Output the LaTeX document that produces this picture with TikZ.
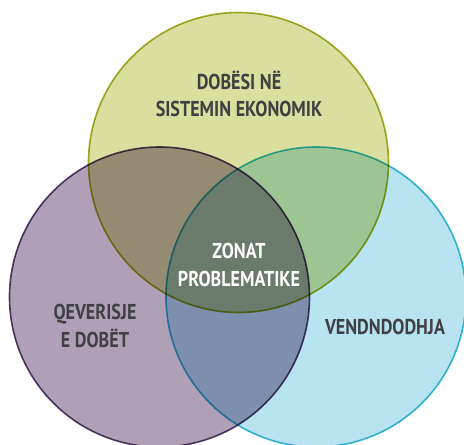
\documentclass[tikz,border=0pt]{standalone}
\usepackage{fontspec}
\newfontfamily\vennfont{PT Sans}[FakeStretch=0.84]
\definecolor{olivefill}{HTML}{DADE9E}
\definecolor{olivedraw}{HTML}{A6B125}
\definecolor{plumfill}{HTML}{AFA0B8}
\definecolor{plumdraw}{HTML}{58416F}
\definecolor{skyfill}{HTML}{B8E3F0}
\definecolor{skydraw}{HTML}{3CBDD7}
\definecolor{labeltext}{HTML}{404042}
\tikzset{set/.style={circle,minimum size=300pt,inner sep=0pt,line width=1.6pt}}

\begin{document}
\begin{tikzpicture}[x=1pt,y=-1pt,
    lbl/.style={align=center,text=labeltext,font=\vennfont\bfseries\fontsize{21.5}{27.5}\selectfont}]
    \useasboundingbox (0,0) rectangle (464,445);
    \begin{scope}[blend group=multiply]
        \node[set,fill=olivefill,draw=olivedraw] (econ) at (238.5,162.5) {};
        \node[set,fill=plumfill,draw=plumdraw] (gov) at (159.5,297) {};
        \node[set,fill=skyfill,draw=skydraw] (place) at (316,297) {};
    \end{scope}
    \node[lbl] (econlbl) at (239,94) {DOBËSI NË\\SISTEMIN EKONOMIK};
    \node[lbl] (govlbl) at (95,326) {QEVERISJE\\E DOBËT};
    \node[lbl] (placelbl) at (385,327) {VENDNDODHJA};
    \node[lbl,text=white] (zone) at (239,265) {ZONAT\\PROBLEMATIKE};
\end{tikzpicture}
\end{document}
